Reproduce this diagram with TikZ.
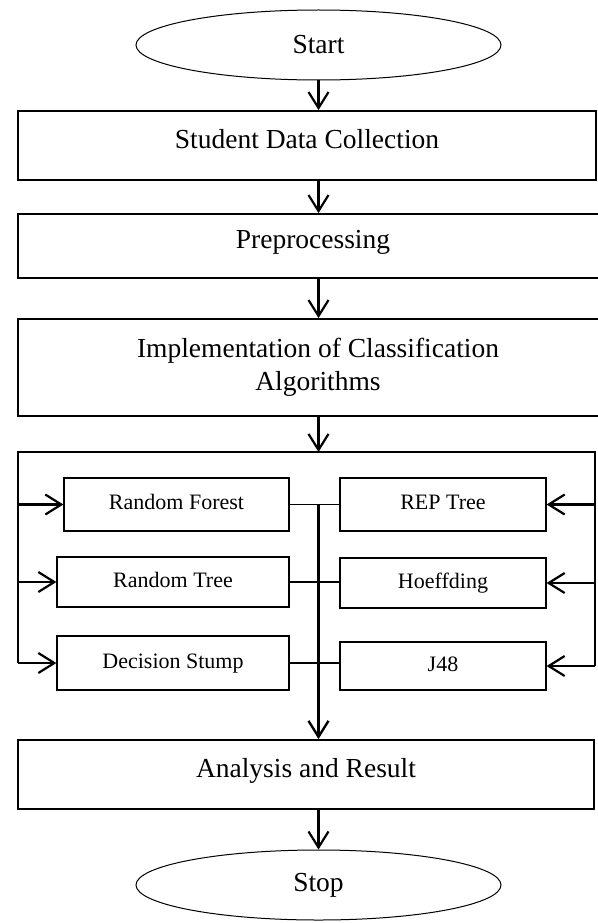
\documentclass[tikz,border=0pt]{standalone}
\usepackage{fontspec}
\setmainfont{Liberation Serif}
\usetikzlibrary{arrows.meta,shapes.geometric}
\begin{document}
\begin{tikzpicture}[x=1pt,y=-1pt,
  mainbox/.style={draw, line width=1.8pt, rectangle, inner sep=0pt, font=\fontsize{27.5}{33}\selectfont},
  onel/.style={text height=20pt, text depth=15pt},
  algbox/.style={draw, line width=1.2pt, rectangle, inner sep=0pt, font=\fontsize{22}{26}\selectfont, text height=16pt, text depth=6pt},
  term/.style={draw, ellipse, line width=1pt, inner sep=0pt, font=\fontsize{27.5}{33}\selectfont, minimum width=365pt, minimum height=70pt},
  flow/.style={line width=2.2pt, -{Straight Barb[length=16pt,width=20pt]}},
  link/.style={line width=1.8pt},
  frame/.style={line width=2.2pt},
]
\useasboundingbox (0,0) rectangle (597,923);
\fill[white] (0,0) rectangle (597,923);

\node[term] (start) at (318.5,45) {Start};
\node[mainbox, onel, minimum width=578pt, minimum height=69pt] (b1) at (307,145.5) {Student Data Collection};
\node[mainbox, onel, minimum width=590pt, minimum height=64pt] (b2) at (313,246) {Preprocessing};
\node[mainbox, align=center, minimum width=600pt, minimum height=97pt] (b3) at (318,367.5) {Implementation of Classification\\Algorithms};

\coordinate (cl) at (18,452);
\coordinate (cr) at (595,452);

\node[algbox, minimum width=225pt, minimum height=53pt] (rf) at (176.5,504.5) {Random Forest};
\node[algbox, minimum width=232pt, minimum height=50pt] (rt) at (173,582) {Random Tree};
\node[algbox, minimum width=232pt, minimum height=54pt] (ds) at (173,663) {Decision Stump};
\node[algbox, minimum width=206pt, minimum height=53pt] (rep) at (443,504.5) {REP Tree};
\node[algbox, minimum width=206pt, minimum height=50pt] (hoef) at (443,583) {Hoeffding};
\node[algbox, minimum width=206pt, minimum height=48pt] (j48) at (443,666) {J48};

\node[mainbox, onel, minimum width=576pt, minimum height=69pt] (an) at (306,774.5) {Analysis and Result};
\node[term] (stop) at (318.5,885) {Stop};

% main flow
\draw[flow] (start.south) -- (start.south |- b1.north);
\draw[flow] (b1.south -| start.south) -- (b2.north -| start.south);
\draw[flow] (b2.south -| start.south) -- (b3.north -| start.south);
\draw[flow] (b3.south -| start.south) -- (cl -| start.south);

% frame
\draw[frame] (ds.west -| cl) -- (cl) -- (cr) -- (j48.east -| cr);
\draw[flow] (rf.west -| cl) -- (rf.west);
\draw[flow] (rt.west -| cl) -- (rt.west);
\draw[flow] (ds.west -| cl) -- (ds.west);
\draw[flow] (rep.east -| cr) -- (rep.east);
\draw[flow] (hoef.east -| cr) -- (hoef.east);
\draw[flow] (j48.east -| cr) -- (j48.east);

% links between boxes
\draw[link] (rf.east) -- (rep.west);
\draw[link] (rt.east) -- (rt.east -| hoef.west);
\draw[link] (ds.east) -- (ds.east -| j48.west);

% hub
\coordinate (hub) at (rf.east -| start.south);
\draw[flow, line width=2.4pt] (hub) -- (hub |- an.north);
\draw[flow] (an.south -| start.south) -- (stop.north);
\end{tikzpicture}
\end{document}
